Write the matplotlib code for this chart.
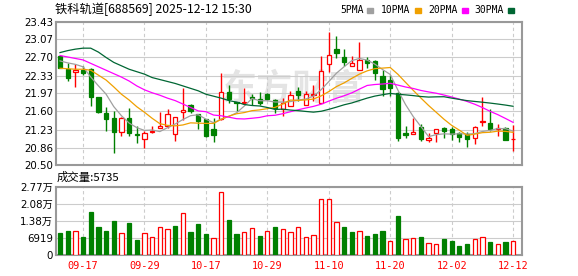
import numpy as np
import pandas as pd
import matplotlib
matplotlib.use("Agg")
import matplotlib.pyplot as plt
from matplotlib.patches import Rectangle

plt.rcParams['font.family'] = ['DejaVu Sans', 'Noto Sans CJK SC']
CJK = ['Noto Sans CJK SC', 'DejaVu Sans']

# --- data ---
dates = ['09-12', '09-15', '09-16', '09-17', '09-18', '09-19', '09-22', '09-23', '09-24', '09-25',
         '09-26', '09-29', '09-30', '10-09', '10-10', '10-13', '10-14', '10-15', '10-16', '10-17',
         '10-20', '10-21', '10-22', '10-23', '10-24', '10-27', '10-28', '10-29', '10-30', '10-31',
         '11-03', '11-04', '11-05', '11-06', '11-07', '11-10', '11-11', '11-12', '11-13', '11-14',
         '11-17', '11-18', '11-19', '11-20', '11-21', '11-24', '11-25', '11-26', '11-27', '11-28',
         '12-01', '12-02', '12-03', '12-04', '12-05', '12-08', '12-09', '12-10', '12-11', '12-12']

open_ = [22.72, 22.46, 22.40, 22.44, 22.46, 21.89, 21.56, 21.46, 21.17, 21.46,
         21.13, 21.04, 21.17, 21.27, 21.30, 21.13, 21.58, 21.74, 21.54, 21.44,
         21.24, 21.44, 22.00, 21.79, 21.78, 21.90, 21.86, 21.95, 21.84, 21.65,
         21.72, 22.01, 21.74, 21.93, 21.78, 22.57, 22.87, 22.70, 22.53, 22.44,
         22.64, 22.62, 22.32, 22.25, 21.98, 21.15, 21.13, 21.29, 21.02, 21.15,
         21.26, 21.25, 21.15, 21.14, 21.05, 21.38, 21.36, 21.25, 21.27, 21.03]
high = [22.74, 22.59, 22.57, 22.53, 22.48, 21.90, 21.68, 21.61, 21.48, 21.67,
        21.30, 21.21, 21.30, 21.58, 21.64, 21.49, 22.07, 21.76, 21.55, 21.45,
        21.46, 22.38, 22.14, 21.80, 22.08, 21.96, 21.99, 21.97, 21.85, 21.88,
        22.02, 22.09, 22.02, 22.13, 22.74, 23.23, 23.14, 22.87, 22.73, 23.01,
        22.70, 22.64, 22.44, 22.34, 22.00, 21.31, 21.46, 21.34, 21.15, 21.25,
        21.29, 21.29, 21.18, 21.18, 21.31, 21.89, 21.64, 21.35, 21.29, 21.32]
low = [22.48, 22.23, 22.10, 22.34, 21.70, 21.57, 21.19, 20.76, 21.10, 21.10,
       20.95, 20.85, 21.15, 21.26, 21.27, 20.99, 21.42, 21.57, 21.24, 21.08,
       20.98, 21.43, 21.78, 21.60, 21.76, 21.74, 21.73, 21.83, 21.56, 21.50,
       21.71, 21.82, 21.74, 21.81, 21.77, 22.41, 22.68, 22.53, 22.52, 22.44,
       22.48, 22.24, 21.91, 21.91, 21.00, 21.06, 21.13, 20.99, 20.97, 20.98,
       21.05, 21.01, 20.98, 20.88, 20.93, 21.30, 21.21, 21.09, 21.02, 20.80]
close = [22.49, 22.29, 22.44, 22.39, 21.90, 21.59, 21.44, 21.17, 21.46, 21.15,
         21.12, 21.16, 21.21, 21.30, 21.55, 21.49, 21.62, 21.60, 21.40, 21.10,
         21.12, 22.00, 21.86, 21.78, 21.79, 21.88, 21.78, 21.85, 21.66, 21.78,
         21.93, 21.94, 21.95, 21.96, 22.43, 22.76, 22.80, 22.61, 22.58, 22.65,
         22.59, 22.39, 22.06, 22.08, 21.05, 21.11, 21.17, 21.04, 21.06, 21.25,
         21.19, 21.14, 21.08, 21.03, 21.29, 21.41, 21.25, 21.27, 21.02, 21.04]
volume = [8958, 9626, 9626, 7220, 17247, 11231, 9626, 13637, 8824, 12835,
          6016, 8824, 7220, 11498, 10428, 11632, 16846, 9225, 12434, 8423,
          7086, 25537, 14038, 8423, 9225, 11097, 7621, 9626, 11231, 10696,
          9225, 11498, 7487, 8289, 22729, 22729, 13504, 11231, 9359, 9894,
          7621, 8423, 9626, 5482, 15643, 6685, 7086, 7220, 4680, 4278,
          6418, 5615, 3610, 4412, 6284, 7487, 5214, 4278, 5214, 5735]

# moving-average values before enough bars exist in the window
ma5_head = [22.63, 22.59, 22.56, 22.51]
ma10_head = [22.48, 22.47, 22.46, 22.46, 22.44, 22.34, 22.24, 22.10, 21.95]
ma20_head = [22.74, 22.71, 22.68, 22.65, 22.58, 22.51, 22.44, 22.37, 22.30, 22.22,
             22.12, 22.04, 21.98, 21.93, 21.87, 21.82, 21.75, 21.68, 21.61]
ma30_head = [22.80, 22.84, 22.87, 22.89, 22.89, 22.81, 22.70, 22.60, 22.53, 22.46,
             22.41, 22.36, 22.29, 22.25, 22.21, 22.17, 22.12, 22.07, 22.02, 21.95,
             21.91, 21.87, 21.82, 21.79, 21.74, 21.72, 21.71, 21.68, 21.64]

price_ticks = [23.43, 23.07, 22.70, 22.33, 21.97, 21.60, 21.23, 20.86, 20.50]
vol_ticks = [0, 6919, 13838, 20757, 27676]
vol_tick_labels = ['0', '6919', '1.38万', '2.08万', '2.77万']
date_ticks = ['09-17', '09-29', '10-17', '10-29', '11-10', '11-20', '12-02', '12-12']

ma_names = ['5PMA', '10PMA', '20PMA', '30PMA']
ma_colors = ['#a0a0a0', '#f0a000', '#ff00ff', '#006633']

RED = '#ff0000'
GREEN = '#008000'
GRID = '#cccccc'
FRAME = '#999999'

W, H = 578, 276


def fx(px):
    return px / W


def fy(py):
    return 1 - py / H


df = pd.DataFrame({'open': open_, 'high': high, 'low': low, 'close': close, 'vol': volume})
x = np.arange(len(df))

mas = []
for n, head in zip([5, 10, 20, 30], [ma5_head, ma10_head, ma20_head, ma30_head]):
    m = df['close'].rolling(n).mean()
    m.iloc[:len(head)] = head
    mas.append(m)

up = df['close'] >= df['open']
# volume colour follows close vs previous close
prev_close = df['close'].shift(1).fillna(df['open'])
vol_up = df['close'] >= prev_close

fig = plt.figure(figsize=(W / 100, H / 100), dpi=100)
ax = fig.add_axes([fx(56), fy(165.3), fx(522) - fx(56), fy(21.7) - fy(165.3)])
axv = fig.add_axes([fx(56), fy(255), fx(522) - fx(56), fy(186.7) - fy(255)])

xlim = (-0.52, 60.16)
for a in (ax, axv):
    a.set_xlim(*xlim)
    for s in a.spines.values():
        s.set_color(FRAME)
        s.set_linewidth(1.5)
    a.tick_params(length=0, labelsize=7.4, pad=2)
    a.set_xticks([dates.index(d) for d in date_ticks])
    a.grid(axis='x', color=GRID, linestyle=(0, (3, 2.5)), linewidth=0.8)
    a.grid(axis='y', color=GRID, linestyle='-', linewidth=0.8)
    a.set_axisbelow(True)

# --- price panel ---
ax.set_ylim(20.50, 23.43)
ax.set_yticks(price_ticks)
ax.set_yticklabels([f'{v:.2f}' for v in price_ticks])
ax.tick_params(axis='x', labelbottom=False)

ax.text(0.51, 0.53, '东方财富', transform=ax.transAxes, family=CJK, fontsize=26,
        fontweight='bold', color='#e4e4e4', ha='center', va='center', zorder=0.5)

bw = 0.56
cols = np.where(up, RED, GREEN)
ax.vlines(x, df['low'], df['high'], colors=cols, linewidth=1.0, zorder=2)
body_lo = np.minimum(df['open'], df['close'])
body_h = np.maximum(np.abs(df['close'] - df['open']), 0.004)
ax.bar(x, body_h, bottom=body_lo, width=bw,
       color=np.where(up, 'white', GREEN), edgecolor=cols, linewidth=0.9, zorder=3)

for m, c in zip(mas, ma_colors):
    ax.plot(x, m, color=c, linewidth=0.9, zorder=4)

# --- volume panel ---
vmax = vol_ticks[-1]
axv.set_ylim(0, vmax)
axv.set_yticks(vol_ticks)
axv.set_yticklabels(vol_tick_labels)
axv.set_xticklabels(date_ticks, color=RED, family='DejaVu Sans Mono', fontsize=7.4)
axv.tick_params(axis='x', pad=4)
vcols = np.where(vol_up, RED, GREEN)
axv.bar(x, df['vol'], width=bw, color=np.where(vol_up, 'white', GREEN),
        edgecolor=vcols, linewidth=0.9, zorder=3)

fig.text(fx(57), fy(177), f'成交量:{df["vol"].iloc[-1]}', family=CJK, fontsize=8.2,
         va='center', ha='left')

# --- header ---
fig.text(fx(55), fy(9), '铁科轨道[688569] 2025-12-12 15:30', family=CJK, fontsize=8.8,
         va='center', ha='left')

legend_x = [340, 381, 428, 474]
for name, c, lx in zip(ma_names, ma_colors, legend_x):
    fig.text(fx(lx), fy(10), name, family='DejaVu Sans Mono', fontsize=7.0,
             va='center', ha='left')
    sq_x = lx + len(name) * 6.1 + 3
    fig.patches.append(Rectangle((fx(sq_x), fy(12.5)), 6 / W, 5 / H,
                                 transform=fig.transFigure, color=c, figure=fig))

fig.savefig('out.png', dpi=100)
